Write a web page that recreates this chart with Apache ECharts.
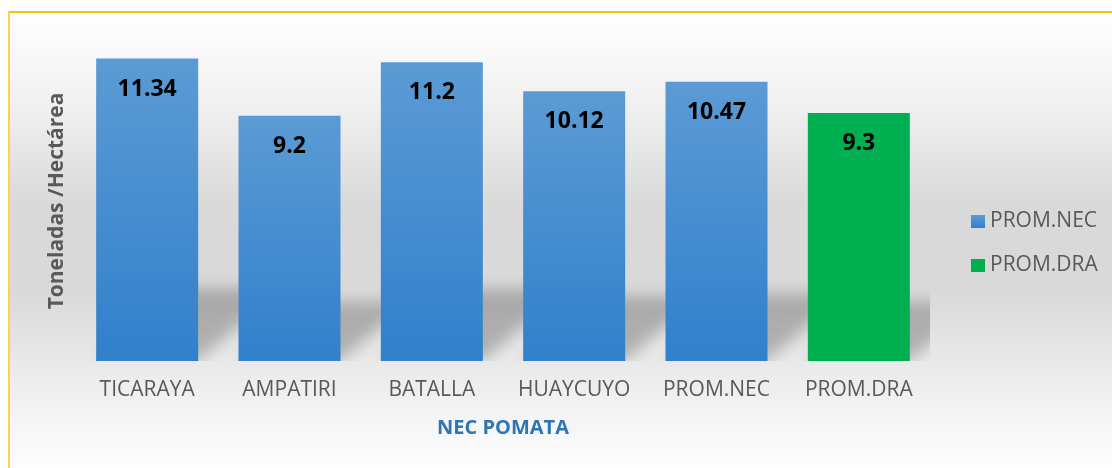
<!DOCTYPE html>
<html>
<head>
<meta charset="utf-8">
<script src="https://cdn.jsdelivr.net/npm/echarts@6/dist/echarts.min.js"></script>
<style>
  html, body { margin: 0; padding: 0; background: #fff; overflow: hidden; }
  #chart {
    position: absolute; left: 8px; top: 11px;
    width: 1110px; height: 460px;
    border-top: 2px solid #F5C20B;
    border-left: 2px solid #FFD24C;
  }
</style>
</head>
<body>
<div id="chart"></div>
<script>
var categories = ['TICARAYA', 'AMPATIRI', 'BATALLA', 'HUAYCUYO', 'PROM.NEC', 'PROM.DRA'];
var promNec = [11.34, 9.2, 11.2, 10.12, 10.47, '-'];
var promDra = ['-', '-', '-', '-', '-', 9.3];

// valor de cada columna, para la sombra en perspectiva
var shadowData = categories.map(function (c, i) {
  return [i, promNec[i] !== '-' ? promNec[i] : promDra[i]];
});

var BAR_W = 102;
var FONT = '"Open Sans", "DejaVu Sans", sans-serif';

var chart = echarts.init(document.getElementById('chart'));

// sombra difuminada detrás de cada barra
function renderShadow(params, api) {
  var base = api.coord([api.value(0), 0]);
  var top = api.coord([api.value(0), api.value(1)]);
  var h = (base[1] - top[1]) * 0.24;
  var dx = h * 1.15;
  var half = BAR_W / 2;
  var off = 3000; // la forma queda fuera, solo se ve su sombra
  return {
    type: 'polygon',
    shape: {
      points: [
        [base[0] - half, base[1] - off],
        [base[0] + half, base[1] - off],
        [base[0] + half + dx, base[1] - h - off],
        [base[0] - half + dx, base[1] - h - off]
      ]
    },
    style: {
      fill: '#000',
      shadowColor: 'rgba(0,0,0,0.23)',
      shadowBlur: 15,
      shadowOffsetX: 0,
      shadowOffsetY: off
    }
  };
}

var option = {
  backgroundColor: {
    type: 'linear', x: 0, y: 0, x2: 0, y2: 1,
    colorStops: [
      { offset: 0, color: '#ffffff' },
      { offset: 0.2, color: '#f0f0f0' },
      { offset: 0.42, color: '#d9d9d9' },
      { offset: 0.6, color: '#d9d9d9' },
      { offset: 0.8, color: '#ededed' },
      { offset: 1, color: '#ffffff' }
    ]
  },
  animation: false,
  textStyle: { fontFamily: FONT },
  grid: { left: 66, width: 854, top: 28, bottom: 112 },
  legend: {
    orient: 'vertical',
    left: 961, top: 198, padding: 0,
    icon: 'rect',
    itemWidth: 14, itemHeight: 13, itemGap: 23,
    data: ['PROM.NEC', 'PROM.DRA'],
    textStyle: { color: '#595959', fontSize: 21, fontFamily: FONT }
  },
  xAxis: {
    type: 'category',
    data: categories,
    name: 'NEC POMATA',
    nameLocation: 'middle',
    nameGap: 57,
    nameTextStyle: { color: '#2E75B6', fontWeight: 'bold', fontSize: 20, fontFamily: FONT },
    axisLine: { show: false },
    axisTick: { show: false },
    axisLabel: {
      color: '#595959', fontSize: 21, margin: 19, fontFamily: FONT,
      interval: 0, hideOverlap: false
    }
  },
  yAxis: {
    type: 'value',
    min: 0, max: 12,
    name: 'Toneladas /Hectárea',
    nameLocation: 'middle',
    nameRotate: 90,
    nameGap: 8,
    nameTextStyle: { color: '#595959', fontWeight: 'bold', fontSize: 21, fontFamily: FONT },
    axisLine: { show: false },
    axisTick: { show: false },
    axisLabel: { show: false },
    splitLine: { show: false }
  },
  series: [
    {
      type: 'custom',
      name: 'sombra',
      renderItem: renderShadow,
      data: shadowData,
      clip: true,
      z: 1,
      silent: true,
      legendHoverLink: false
    },
    {
      name: 'PROM.NEC',
      type: 'bar',
      data: promNec,
      barWidth: BAR_W,
      barGap: '-100%',
      z: 3,
      itemStyle: {
        color: {
          type: 'linear', x: 0, y: 0, x2: 0, y2: 1,
          colorStops: [
            { offset: 0, color: '#5B9BD5' },
            { offset: 1, color: '#3080CB' }
          ]
        }
      },
      label: {
        show: true, position: 'insideTop', distance: 19,
        color: '#000', fontWeight: 'bold', fontSize: 23, fontFamily: FONT
      }
    },
    {
      name: 'PROM.DRA',
      type: 'bar',
      data: promDra,
      barWidth: BAR_W,
      z: 3,
      itemStyle: { color: '#00B050' },
      label: {
        show: true, position: 'insideTop', distance: 19,
        color: '#000', fontWeight: 'bold', fontSize: 23, fontFamily: FONT
      }
    }
  ]
};

chart.setOption(option);
</script>
</body>
</html>
